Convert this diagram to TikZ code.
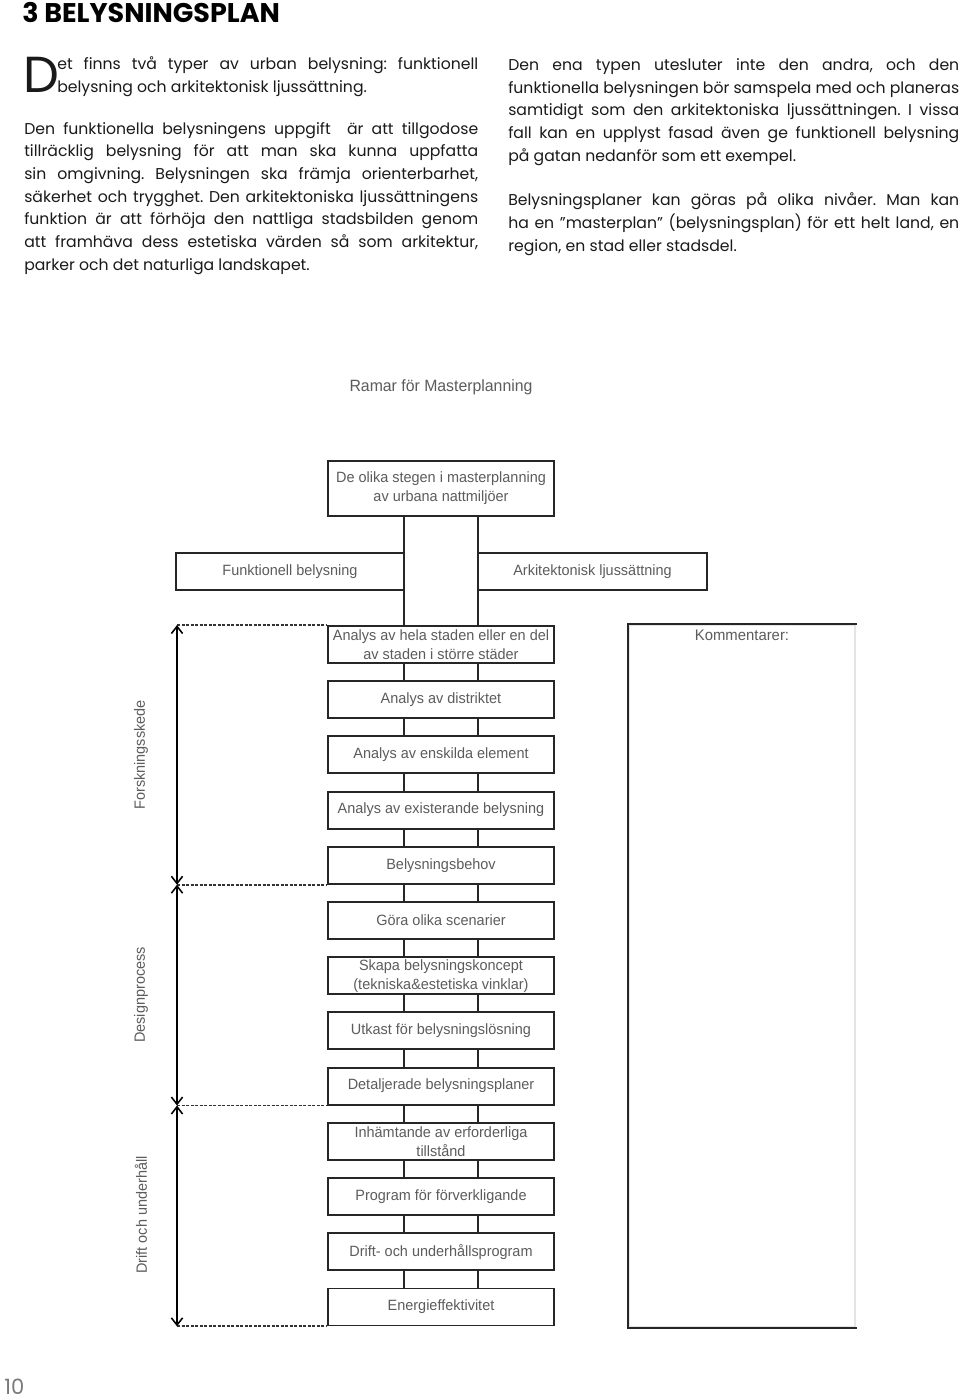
\documentclass[tikz,border=0pt]{standalone}
\usepackage{fontspec}
\setmainfont{Poppins}
\newfontfamily\diagfont{Liberation Sans}[FakeStretch=0.97]
\usetikzlibrary{arrows.meta,positioning}
\definecolor{tinte}{HTML}{1A1A1A}
\definecolor{grau}{HTML}{5C5C5C}
\definecolor{linie}{HTML}{262626}
\definecolor{hgrau}{HTML}{E4E4E4}
\definecolor{sgrau}{HTML}{7A7A7A}
\newlength\pxu
\setlength\pxu{0.025cm}
\frenchspacing
% justierte Zeile
\newcommand\jz[2][454]{\makebox[#1\pxu][s]{#2}}
\tikzset{
  fliess/.style={anchor=base west,inner sep=0pt,text=tinte,font=\fontsize{11.15}{15}\selectfont},
  titel/.style={anchor=base west,inner sep=0pt,text=black,font=\fontsize{19.2}{22}\selectfont\bfseries},
  initiale/.style={anchor=base west,inner sep=0pt,text=tinte,font=\fontsize{36}{36}\selectfont},
  stufe/.style={draw=linie,line width=1.3pt,fill=white,minimum width=226\pxu,minimum height=37\pxu,
    inner sep=0pt,align=center,text=grau,font=\diagfont\fontsize{10.6}{13.5}\selectfont},
  diagtext/.style={inner sep=0pt,text=grau,font=\diagfont\fontsize{10.9}{13}\selectfont},
  phase/.style={diagtext,rotate=90,font=\diagfont\fontsize{10.6}{13}\selectfont},
  steg/.style={linie,line width=1.3pt},
  hilf/.style={black!80,line width=1.2pt,dash pattern=on 3\pxu off 1.5\pxu},
  pfeil/.style={{Straight Barb[length=1.8mm,width=2.8mm]}-{Straight Barb[length=1.8mm,width=2.8mm]},black,line width=1.1pt},
}
\begin{document}
\begin{tikzpicture}[x=0.025cm,y=-0.025cm]
  \fill[white] (0,0) rectangle (960,1400);
  \useasboundingbox (0,0) rectangle (960,1400);
  % Kopf und Fliesstext
  \node[titel] (titel) at (22,23) {3 BELYSNINGSPLAN};
  \node[initiale] (initD) at (23,92.6) {D};
  \node[fliess] (a1) at (57,70) {\jz[421]{et finns två typer av urban belysning: funktionell}};
  \node[fliess] (a2) at (57,92.6) {belysning och arkitektonisk ljussättning.};
  \foreach \z [count=\i] in {{Den funktionella belysningens uppgift\ \ är att tillgodose},
      {tillräcklig belysning för att man ska kunna uppfatta},
      {sin omgivning. Belysningen ska främja orienterbarhet,},
      {säkerhet och trygghet. Den arkitektoniska ljussättningens},
      {funktion är att förhöja den nattliga stadsbilden genom},
      {att framhäva dess estetiska värden så som arkitektur,}}
    \node[fliess] (b\i) at (24,{134.3+22.65*(\i-1)}) {\jz{\z}};
  \node[fliess] (b7) at (24,270.2) {parker och det naturliga landskapet.};
  \foreach \z [count=\i] in {{Den ena typen utesluter inte den andra, och den},
      {funktionella belysningen bör samspela med och planeras},
      {samtidigt som den arkitektoniska ljussättningen. I vissa},
      {fall kan en upplyst fasad även ge funktionell belysning}}
    \node[fliess] (c\i) at (508,{70.5+22.65*(\i-1)}) {\jz[451]{\z}};
  \node[fliess] (c5) at (508,161.1) {på gatan nedanför som ett exempel.};
  \node[fliess] (d1) at (508,205.7) {\jz[451]{Belysningsplaner kan göras på olika nivåer. Man kan}};
  \node[fliess] (d2) at (508,228.4) {\jz[451]{ha en ”masterplan” (belysningsplan) för ett helt land, en}};
  \node[fliess] (d3) at (508,251) {region, en stad eller stadsdel.};
  % Diagramm
  \node[diagtext,font=\diagfont\fontsize{11.6}{13}\selectfont] (rahmen) at (441,387) {Ramar för Masterplanning};
  \node[stufe,minimum height=55\pxu] (top) at (441,488.5) {De olika stegen i masterplanning\\av urbana nattmiljöer};
  \foreach \t [count=\i] in {{Analys av hela staden eller en del\\av staden i större städer},
      {Analys av distriktet},{Analys av enskilda element},{Analys av existerande belysning},
      {Belysningsbehov},{Göra olika scenarier},{Skapa belysningskoncept\\(tekniska\&estetiska vinklar)},
      {Utkast för belysningslösning},{Detaljerade belysningsplaner},{Inhämtande av erforderliga\\tillstånd},
      {Program för förverkligande},{Drift- och underhållsprogram},{Energieffektivitet}}
    \node[stufe] (s\i) at (441,{644.5+55.2*(\i-1)}) {\t};
  \draw[steg] ([xshift=-37\pxu]top.south) -- ([xshift=-37\pxu]s1.north);
  \draw[steg] ([xshift=37\pxu]top.south) -- ([xshift=37\pxu]s1.north);
  \foreach \i [evaluate=\i as \j using int(\i+1)] in {1,...,12} {
    \draw[steg] ([xshift=-37\pxu]s\i.south) -- ([xshift=-37\pxu]s\j.north);
    \draw[steg] ([xshift=37\pxu]s\i.south) -- ([xshift=37\pxu]s\j.north);
  }
  \node[stufe,minimum width=228\pxu] (funk) at (290,571.5) {Funktionell belysning};
  \node[stufe,minimum width=229\pxu] (arki) at (592.5,571.5) {Arkitektonisk ljussättning};
  % Phasen links
  \coordinate (achse) at (177,0);
  \draw[hilf] (achse |- s1.north west) -- (s1.north west);
  \draw[hilf] (achse |- s5.south west) -- (s5.south west);
  \draw[hilf] (achse |- s9.south west) -- (s9.south west);
  \draw[hilf] (achse |- s13.south west) -- (s13.south west);
  \draw[pfeil] (achse |- s1.north) -- (achse |- s5.south);
  \draw[pfeil] (achse |- s5.south) -- (achse |- s9.south);
  \draw[pfeil] (achse |- s9.south) -- (achse |- s13.south);
  \node[phase] (p1) at (141,755) {Forskningsskede};
  \node[phase] (p2) at (141,995) {Designprocess};
  \node[phase] (p3) at (141,1215) {Drift och underhåll};
  % Kommentarfeld
  \node[draw=hgrau,line width=1pt,minimum width=226\pxu,minimum height=702\pxu,inner sep=0pt] (komm) at (742,976) {};
  \draw[steg,line cap=rect] (komm.north east) -- (komm.north west) -- (komm.south west) -- (komm.south east);
  \node[diagtext,anchor=north,below=5\pxu of komm.north] (kommtxt) {Kommentarer:};
  \node[anchor=base west,inner sep=0pt,text=sgrau,font=\fontsize{15}{15}\selectfont] (seite) at (4,1394) {10};
\end{tikzpicture}
\end{document}
